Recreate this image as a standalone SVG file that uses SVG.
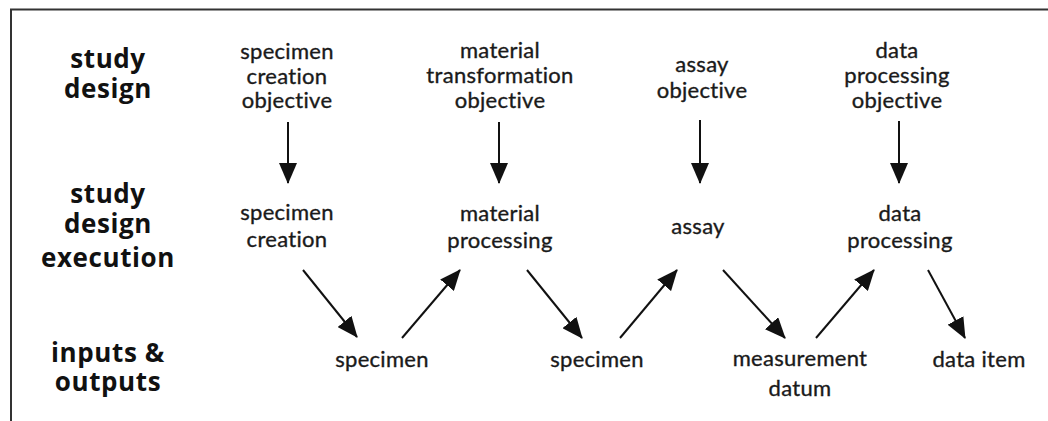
<svg xmlns="http://www.w3.org/2000/svg" width="1048" height="421" viewBox="0 0 1048 421">
<style>
.t{font-family:"Lato","Open Sans","Liberation Sans",sans-serif;font-size:22px;letter-spacing:0.3px;font-variant-ligatures:none;fill:#1a1a1a;stroke:#1a1a1a;stroke-width:0.35;text-anchor:middle}
.b{font-family:"Open Sans","Lato","Liberation Sans",sans-serif;font-size:26px;letter-spacing:0.6px;font-weight:700;fill:#111;text-anchor:middle}
.c{stroke:#111;stroke-width:2;fill:none;marker-end:url(#ah)}
</style>
<defs>
<marker id="ah" markerUnits="userSpaceOnUse" markerWidth="21" markerHeight="18" refX="20" refY="9" orient="auto">
<path d="M0,0 L21,9 L0,18 z" fill="#111"/>
</marker>
</defs>
<rect width="1048" height="421" fill="#fff"/>
<g id="frame" stroke="#333" stroke-width="2" fill="none">
<path d="M11,421 L11,9.5 L1048,9.5"/>
</g>
<g id="row-labels">
<text class="b" x="108" y="68">study</text>
<text class="b" x="108" y="98">design</text>
<text class="b" x="108" y="203">study</text>
<text class="b" x="108" y="233">design</text>
<text class="b" x="108" y="267">execution</text>
<text class="b" x="108" y="362">inputs &amp;</text>
<text class="b" x="108" y="391">outputs</text>
</g>
<g id="specimen-creation-objective"><text class="t" x="287" y="59">specimen</text><text class="t" x="287" y="84">creation</text><text class="t" x="287" y="108">objective</text></g>
<g id="material-transformation-objective"><text class="t" x="500" y="58">material</text><text class="t" x="500" y="83">transformation</text><text class="t" x="500" y="108">objective</text></g>
<g id="assay-objective"><text class="t" x="702" y="72">assay</text><text class="t" x="702" y="98">objective</text></g>
<g id="data-processing-objective"><text class="t" x="897" y="58">data</text><text class="t" x="897" y="83">processing</text><text class="t" x="897" y="108">objective</text></g>
<g id="specimen-creation"><text class="t" x="287" y="220">specimen</text><text class="t" x="287" y="247">creation</text></g>
<g id="material-processing"><text class="t" x="500" y="221">material</text><text class="t" x="500" y="248">processing</text></g>
<g id="assay"><text class="t" x="698" y="234">assay</text></g>
<g id="data-processing"><text class="t" x="900" y="221">data</text><text class="t" x="900" y="248">processing</text></g>
<g id="specimen-1"><text class="t" x="382" y="367">specimen</text></g>
<g id="specimen-2"><text class="t" x="597" y="367">specimen</text></g>
<g id="measurement-datum"><text class="t" x="800" y="366">measurement</text><text class="t" x="800" y="396">datum</text></g>
<g id="data-item"><text class="t" x="979" y="367">data item</text></g>
<g id="connectors">
<line class="c" x1="288" y1="122" x2="288" y2="183"/>
<line class="c" x1="499" y1="122" x2="499" y2="183"/>
<line class="c" x1="700" y1="120" x2="700" y2="183"/>
<line class="c" x1="899" y1="121" x2="899" y2="183"/>
<line class="c" x1="303" y1="270" x2="357" y2="337"/>
<line class="c" x1="402" y1="338" x2="460" y2="270"/>
<line class="c" x1="527" y1="270" x2="582" y2="338"/>
<line class="c" x1="620" y1="338" x2="677" y2="270"/>
<line class="c" x1="723" y1="270" x2="785" y2="338"/>
<line class="c" x1="816" y1="338" x2="874" y2="270"/>
<line class="c" x1="928" y1="270" x2="965" y2="338"/>
</g>
</svg>
